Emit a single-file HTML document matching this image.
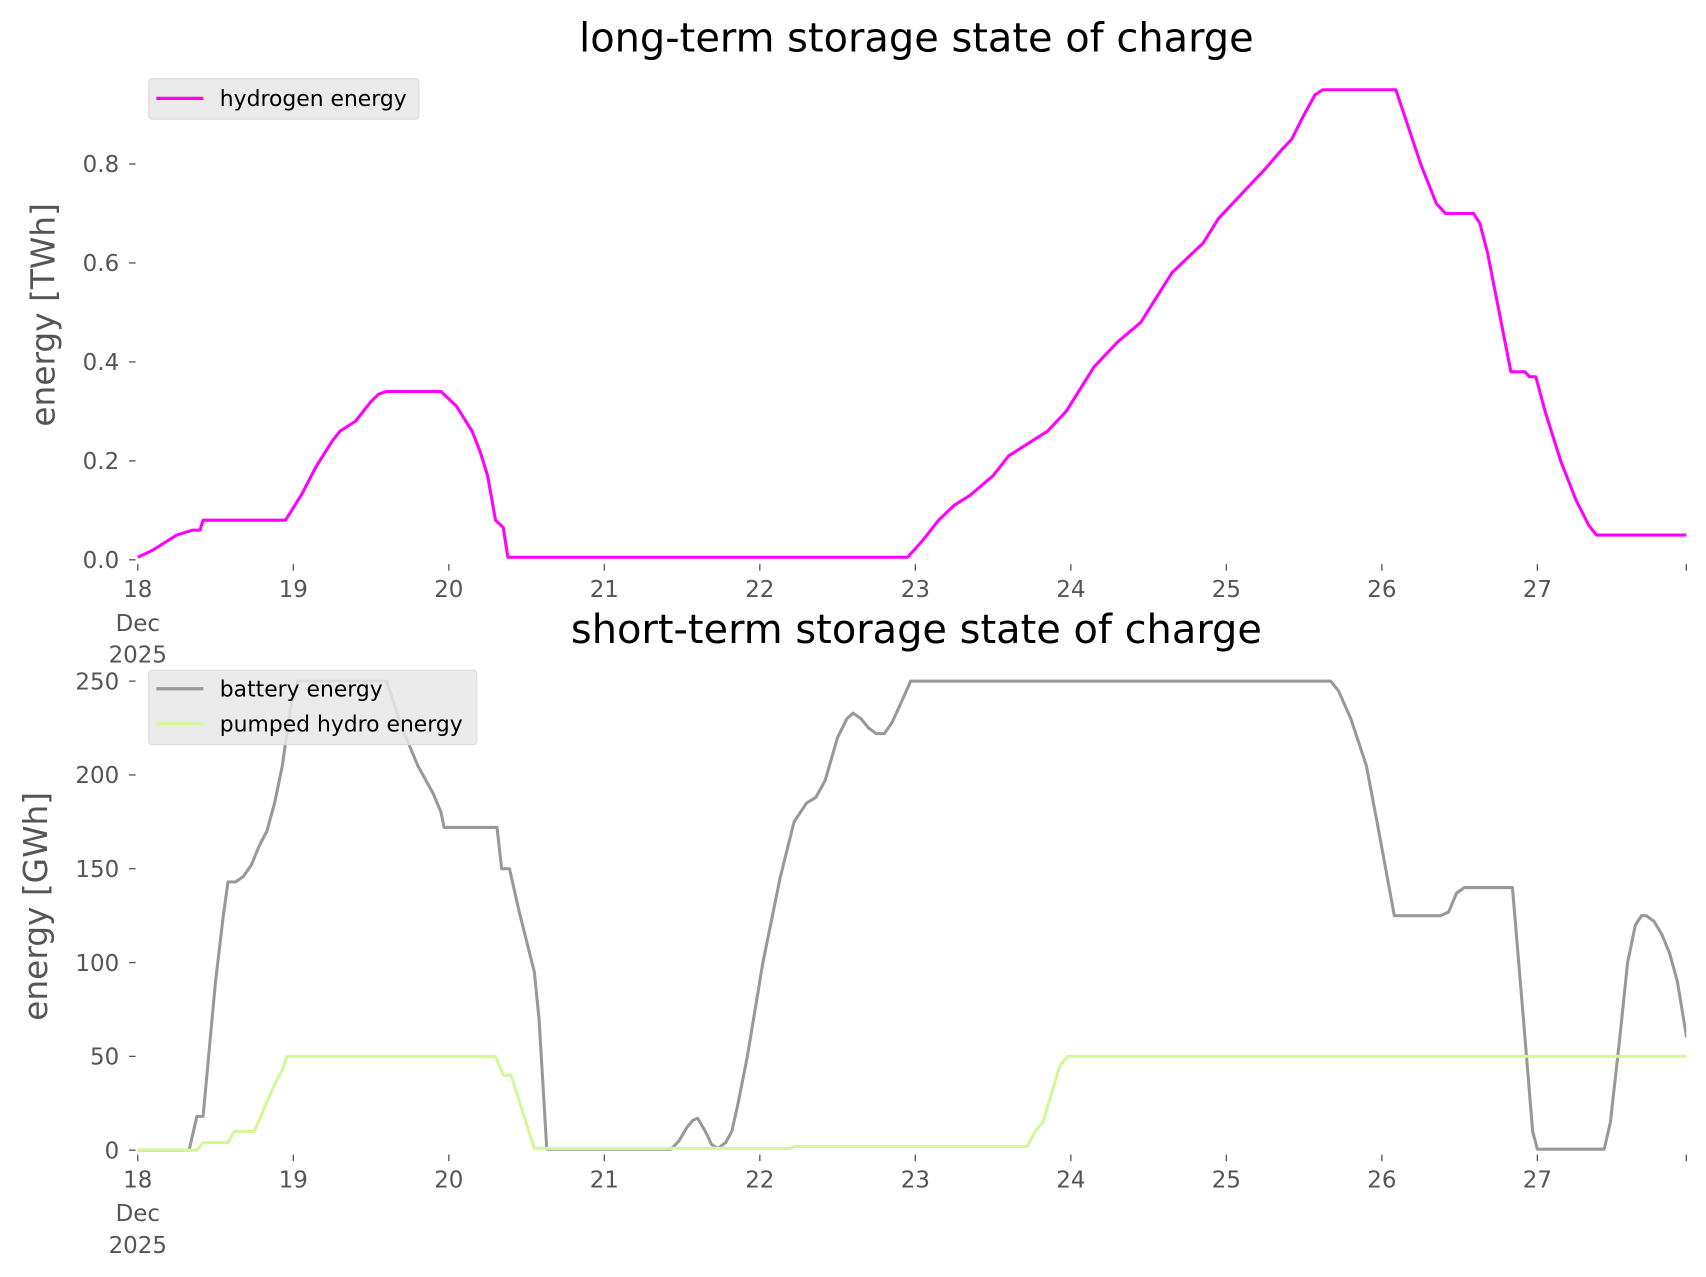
<!DOCTYPE html>
<html><head><meta charset="utf-8"><style>
html,body{margin:0;padding:0;background:#fff;}
svg{display:block;}
text{font-family:"DejaVu Sans","Liberation Sans",sans-serif;}
</style></head><body>
<svg id="s" width="1706" height="1277" viewBox="0 0 1560 1168" preserveAspectRatio="none" xmlns="http://www.w3.org/2000/svg">
<rect width="1560" height="1168" fill="#fff"/>
<text x="838" y="47" font-size="36.5" text-anchor="middle" fill="#000">long-term storage state of charge</text>
<text x="838" y="588" font-size="36.5" text-anchor="middle" fill="#000">short-term storage state of charge</text>
<text transform="translate(50,288) rotate(-90)" font-size="30" text-anchor="middle" fill="#555">energy [TWh]</text>
<text transform="translate(43,829) rotate(-90)" font-size="30" text-anchor="middle" fill="#555">energy [GWh]</text>
<defs><clipPath id="c"><rect x="120" y="0" width="1422" height="1168"/></clipPath></defs>
<g id="g"></g>
</svg>
<script>
var g=document.getElementById('g'),NS='http://www.w3.org/2000/svg';
function el(t,a,txt){var e=document.createElementNS(NS,t);for(var k in a)e.setAttribute(k,a[k]);if(txt!=null)e.textContent=txt;g.appendChild(e);return e;}
function X(d){return 126+(d-18)*142.2;}
function Y1(v){return 512-v*452.5;}
function Y2(v){return 1052-v*1.716;}
[0,0.2,0.4,0.6,0.8].forEach(function(v){var y=Y1(v);el('line',{x1:118,x2:124,y1:y,y2:y,stroke:'#555','stroke-width':1.2});el('text',{x:109,y:y+7.5,'font-size':21,'text-anchor':'end',fill:'#555'},v.toFixed(1));});
[0,50,100,150,200,250].forEach(function(v){var y=Y2(v);el('line',{x1:118,x2:124,y1:y,y2:y,stroke:'#555','stroke-width':1.2});el('text',{x:109,y:y+7.5,'font-size':21,'text-anchor':'end',fill:'#555'},String(v));});
[512,1052].forEach(function(yb){for(var d=18;d<=27;d++){var x=X(d);el('line',{x1:x,x2:x,y1:yb+4,y2:yb+10,stroke:'#555','stroke-width':1.2});el('text',{x:x,y:yb+34,'font-size':21,'text-anchor':'middle',fill:'#555'},String(d));}
el('line',{x1:1542,x2:1542,y1:yb+4,y2:yb+10,stroke:'#555','stroke-width':1.2});
el('text',{x:126,y:yb+65,'font-size':21,'text-anchor':'middle',fill:'#555'},'Dec');el('text',{x:126,y:yb+94,'font-size':21,'text-anchor':'middle',fill:'#555'},'2025');});
function line(pts,Y,col){var s=pts.map(function(p){return X(p[0]).toFixed(1)+','+Y(p[1]).toFixed(1);}).join(' ');el('polyline',{points:s,fill:'none',stroke:col,'stroke-width':2.8,'stroke-linejoin':'round','clip-path':'url(#c)'});}
var h=[[18,0.005],[18.1,0.02],[18.2,0.04],[18.25,0.05],[18.35,0.06],[18.4,0.06],[18.42,0.08],[18.95,0.08],[19.05,0.13],[19.15,0.19],[19.25,0.24],[19.3,0.26],[19.4,0.28],[19.5,0.32],[19.55,0.335],[19.6,0.34],[19.95,0.34],[20.05,0.31],[20.15,0.26],[20.2,0.22],[20.25,0.17],[20.3,0.08],[20.35,0.065],[20.38,0.005],[22.95,0.005],[23.05,0.04],[23.15,0.08],[23.25,0.11],[23.35,0.13],[23.5,0.17],[23.6,0.21],[23.75,0.24],[23.85,0.26],[23.97,0.3],[24.05,0.34],[24.15,0.39],[24.3,0.44],[24.45,0.48],[24.55,0.53],[24.65,0.58],[24.75,0.61],[24.85,0.64],[24.95,0.69],[25.1,0.74],[25.25,0.79],[25.36,0.83],[25.42,0.85],[25.5,0.9],[25.57,0.94],[25.62,0.95],[26.09,0.95],[26.25,0.8],[26.35,0.72],[26.41,0.70],[26.59,0.70],[26.63,0.68],[26.68,0.62],[26.83,0.38],[26.92,0.38],[26.95,0.37],[26.99,0.37],[27.05,0.3],[27.15,0.2],[27.25,0.12],[27.33,0.07],[27.38,0.05],[28,0.05]];
var b=[[18,0],[18.33,0],[18.38,18],[18.42,18],[18.5,90],[18.55,125],[18.58,143],[18.63,143],[18.68,146],[18.73,152],[18.78,162],[18.83,170],[18.88,185],[18.93,205],[18.98,235],[19.03,250],[19.6,250],[19.7,225],[19.8,205],[19.9,190],[19.95,180],[19.97,172],[20.31,172],[20.34,150],[20.39,150],[20.45,128],[20.55,95],[20.58,70],[20.63,0.5],[21.43,0.5],[21.48,5],[21.53,12],[21.57,16],[21.6,17],[21.65,10],[21.69,3],[21.73,1],[21.78,4],[21.82,10],[21.86,25],[21.92,50],[22.02,100],[22.13,145],[22.22,175],[22.3,185],[22.36,188],[22.42,197],[22.5,220],[22.56,230],[22.6,233],[22.65,230],[22.7,225],[22.75,222],[22.8,222],[22.85,228],[22.9,237],[22.97,250],[25.67,250],[25.72,245],[25.8,230],[25.9,205],[25.98,170],[26.08,125],[26.38,125],[26.43,127],[26.48,137],[26.53,140],[26.84,140],[26.9,80],[26.97,10],[27,0.5],[27.43,0.5],[27.47,15],[27.53,60],[27.58,100],[27.63,120],[27.67,125],[27.7,125],[27.75,122],[27.8,115],[27.85,105],[27.9,90],[27.96,60]];
var p=[[18,0],[18.38,0],[18.42,4],[18.58,4],[18.62,10],[18.75,10],[18.8,20],[18.88,35],[18.93,43],[18.96,50],[20.3,50],[20.35,40],[20.4,40],[20.55,1],[22.2,1],[22.22,2],[23.72,2],[23.77,10],[23.82,15],[23.93,45],[23.98,50],[28,50]];
line(h,Y1,'#ff00ff');line(b,Y2,'#999999');line(p,Y2,'#d4f797');
el('rect',{x:136,y:72,width:247,height:37,rx:3,fill:'#e8e8e8','fill-opacity':0.85,stroke:'#dcdcdc'});
el('line',{x1:143,x2:186,y1:90,y2:90,stroke:'#ff00ff','stroke-width':3});
el('text',{x:201,y:97,'font-size':20,fill:'#000'},'hydrogen energy');
el('rect',{x:136,y:613,width:300,height:68,rx:3,fill:'#e8e8e8','fill-opacity':0.85,stroke:'#dcdcdc'});
el('line',{x1:143,x2:186,y1:630,y2:630,stroke:'#999','stroke-width':3});
el('text',{x:201,y:637,'font-size':20,fill:'#000'},'battery energy');
el('line',{x1:143,x2:186,y1:662,y2:662,stroke:'#d4f797','stroke-width':3});
el('text',{x:201,y:669,'font-size':20,fill:'#000'},'pumped hydro energy');
</script>
</body></html>
